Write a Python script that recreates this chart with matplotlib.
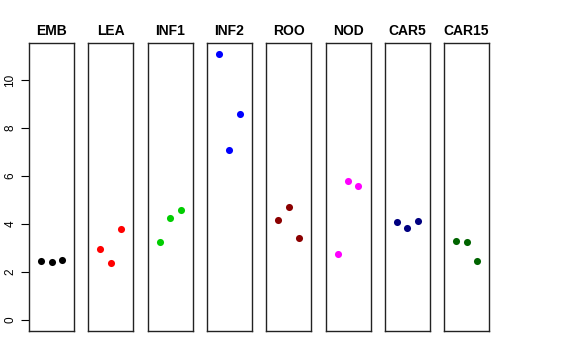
import matplotlib
matplotlib.use("Agg")
import matplotlib.pyplot as plt

plt.rcParams['font.family'] = ['Liberation Sans', 'DejaVu Sans']

# tissues and their replicate values
tissues = ["EMB", "LEA", "INF1", "INF2", "ROO", "NOD", "CAR5", "CAR15"]
colors = ["black", "red", "#00CD00", "blue", "#8B0000", "magenta", "#000080", "#006400"]
values = [
    [2.45, 2.40, 2.48],
    [2.97, 2.36, 3.79],
    [3.24, 4.24, 4.60],
    [11.10, 7.08, 8.57],
    [4.17, 4.72, 3.40],
    [2.74, 5.78, 5.60],
    [4.08, 3.85, 4.12],
    [3.28, 3.26, 2.45],
]
reps = [1, 2, 3]
yticks = [0, 2, 4, 6, 8, 10]

W, H = 576, 360
fig = plt.figure(figsize=(W / 100, H / 100), dpi=100)

left0 = 29
pw = 45
step = 59.3
bottom = 360 - 331
top = 360 - 43

for i, (name, col, vals) in enumerate(zip(tissues, colors, values)):
    x0 = left0 + i * step
    ax = fig.add_axes([x0 / W, bottom / H, pw / W, (top - bottom) / H])
    ax.scatter(reps, vals, s=26, color=col, linewidths=0, zorder=3)
    ax.set_xlim(-0.16, 4.16)
    ax.set_ylim(-0.46, 11.54)
    ax.set_xticks([])
    for sp in ax.spines.values():
        sp.set_linewidth(1.0)
        sp.set_color("#222222")
    ax.set_title(name, fontsize=10, fontweight="bold", pad=6)
    if i == 0:
        ax.set_yticks(yticks)
        ax.set_yticklabels([str(t) for t in yticks], rotation=90, va="center", fontsize=8.5)
        ax.tick_params(axis="y", length=6, width=0.8, pad=3)
    else:
        ax.set_yticks([])

fig.savefig("out.png", dpi=100)
